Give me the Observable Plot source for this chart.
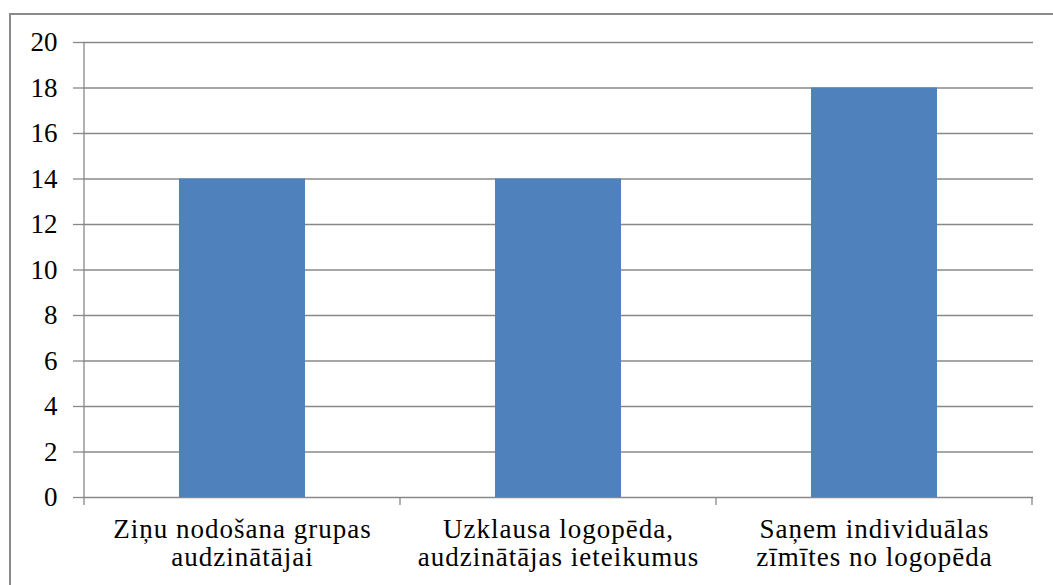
<!DOCTYPE html>
<html>
<head>
<meta charset="utf-8">
<script src="https://cdn.jsdelivr.net/npm/d3@7"></script>
<script src="https://cdn.jsdelivr.net/npm/@observablehq/plot@0.6"></script>
<style>
  html, body { margin: 0; padding: 0; background: #fff; overflow: hidden; }
  #wrap { position: relative; width: 1053px; height: 585px; overflow: hidden; }
  #frame { position: absolute; left: 9px; top: 13px; width: 1100px; height: 700px; border: 2.5px solid #8a8a8a; box-sizing: border-box; pointer-events: none; }
  #chart { position: absolute; left: 0; top: 0; }
  #chart svg text { font-family: "Liberation Serif" !important; }
</style>
</head>
<body>
<div id="wrap"><div id="chart"></div><div id="frame"></div></div>
<script>
const categories = [
  "Ziņu nodošana grupas\naudzinātājai",
  "Uzklausa logopēda,\naudzinātājas ieteikumus",
  "Saņem individuālas\nzīmītes no logopēda"
];
const values = [14, 14, 18];
const yTicks = [0, 2, 4, 6, 8, 10, 12, 14, 16, 18, 20];

const data = categories.map((c, i) => ({category: c, value: values[i]}));
const gray = "#888888";

function boundaryTicks(index, scales, values, dims) {
  const x = scales.x, y = scales.y;
  const step = x(categories[1]) - x(categories[0]);
  const edges = categories.map(c => x(c)).concat([x(categories[categories.length - 1]) + step]);
  const y0 = y(0);
  const g = d3.create("svg:g").attr("stroke", gray).attr("stroke-width", 1.3);
  edges.forEach(e => g.append("line").attr("x1", e).attr("x2", e).attr("y1", y0).attr("y2", y0 + 8));
  return g.node();
}

function axisLine(index, scales, values, dims) {
  const x = scales.x, y = scales.y;
  const x0 = x(categories[0]);
  return d3.create("svg:line").attr("stroke", gray).attr("stroke-width", 1.3)
    .attr("x1", x0).attr("x2", x0).attr("y1", y(yTicks[yTicks.length - 1])).attr("y2", y(0)).node();
}

const chart = Plot.plot({
  width: 1053,
  height: 585,
  marginLeft: 83,
  marginRight: 20,
  marginTop: 42,
  marginBottom: 88,
  style: {fontFamily: "Liberation Serif", background: "transparent", color: "#000"},
  x: {domain: categories, padding: 0},
  y: {domain: [0, 20]},
  marks: [
    Plot.gridY(yTicks, {stroke: gray, strokeOpacity: 1, strokeWidth: 1.3}),
    Plot.barY(data, {x: "category", y: "value", fill: "#4F81BD", insetLeft: 95, insetRight: 95}),
    Plot.axisY(yTicks, {tickSize: 10, tickPadding: 16, fontSize: 27, stroke: gray, strokeWidth: 1.3, fill: "#000", label: null}),
    Plot.axisX({tickSize: 0, tickPadding: 20, fontSize: 27, lineHeight: 1.05, fill: "#000", label: null}),
    axisLine,
    boundaryTicks
  ]
});
document.getElementById("chart").appendChild(chart);
d3.select(chart).selectAll("text").style("font-family", "Liberation Serif");
d3.select(chart).selectAll("[aria-label='x-axis tick label'] text").style("letter-spacing", "1px");
</script>
</body>
</html>
